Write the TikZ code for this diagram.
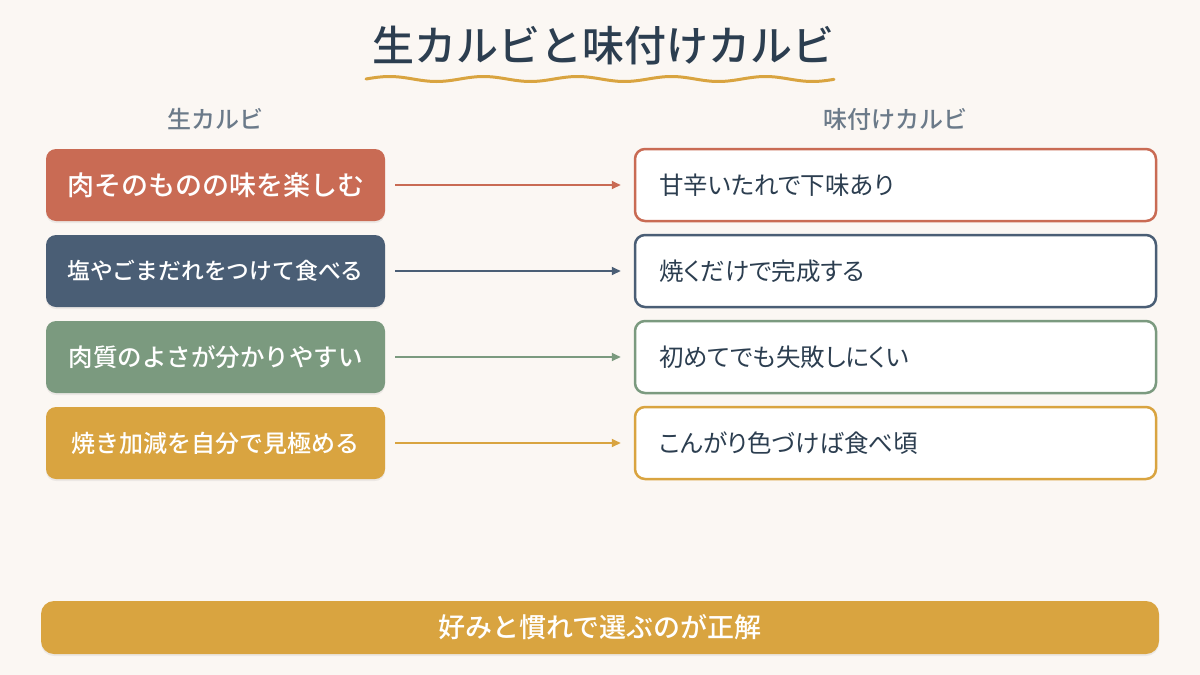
\documentclass[tikz,border=0pt]{standalone}
\usepackage{fontspec}
\setmainfont{Noto Sans CJK JP}
\newfontfamily\cjkmed{Noto Sans CJK JP Medium}
\newfontfamily\cjkprop[RawFeature=+palt]{Noto Sans CJK JP}
\usepackage{xcolor}
\usetikzlibrary{positioning,arrows.meta,shadows}

\definecolor{bgcream}{HTML}{FBF7F3}
\definecolor{titleink}{HTML}{2C3E50}
\definecolor{headink}{HTML}{6B7A89}
\definecolor{rouge}{HTML}{C96B54}
\definecolor{navy}{HTML}{4A5E75}
\definecolor{sage}{HTML}{7B9A7F}
\definecolor{gold}{HTML}{D9A440}

\begin{document}
\begin{tikzpicture}[
	x=1pt, y=1pt,
	every node/.style={inner sep=0pt},
	rawbox/.style={rounded corners=10pt, minimum width=339pt, minimum height=72pt, text=white,
		font=\fontsize{24.5}{30}\cjkmed,
		drop shadow={opacity=0.12, shadow xshift=0pt, shadow yshift=-2pt}},
	tastebox/.style={draw, line width=2.5pt, fill=white, rounded corners=10pt,
		minimum width=521pt, minimum height=72pt, text width=473pt, inner xsep=24pt,
		align=left, text=titleink, font=\fontsize{24.5}{28}\cjkprop},
	head/.style={text=headink, font=\fontsize{24}{28}\cjkmed},
	arrow/.style={-{Triangle[length=9pt, width=8pt]}, line width=2pt}
	]
	
	% background
	\fill[bgcream] (0,0) rectangle (1200,-675);
	
	% title
	\node[text=titleink, font=\fontsize{42}{48}\cjkmed] (title) at (603,-46) {生カルビと味付けカルビ};
	\draw[gold, line width=3pt, line cap=round, domain=0:468, samples=120, smooth]
		plot ({366+\x}, {-79+2.5*sin(\x/94*360)});
	
	% column heads
	\node[head] (hraw) at (215,-119) {生カルビ};
	\node[head] (htaste) at (895,-119) {味付けカルビ};
	
	% left: raw
	\node[rawbox, fill=rouge, font=\fontsize{27}{30}\cjkmed] (L1) at (215.5,-185) {肉そのものの味を楽しむ};
	\node[rawbox, fill=navy, font=\fontsize{22.8}{28}\cjkmed] (L2) at (215.5,-271) {塩やごまだれをつけて食べる};
	\node[rawbox, fill=sage] (L3) at (215.5,-357) {肉質のよさが分かりやすい};
	\node[rawbox, fill=gold, font=\fontsize{24}{28}\cjkmed] (L4) at (215.5,-443) {焼き加減を自分で見極める};
	
	% right: seasoned
	\node[tastebox, draw=rouge] (R1) at (895.5,-185) {甘辛いたれで下味あり};
	\node[tastebox, draw=navy] (R2) at (895.5,-271) {焼くだけで完成する};
	\node[tastebox, draw=sage] (R3) at (895.5,-357) {初めてでも失敗しにくい};
	\node[tastebox, draw=gold] (R4) at (895.5,-443) {こんがり色づけば食べ頃};
	
	\draw[arrow, rouge] ([xshift=10pt]L1.east) -- ([xshift=-13pt]R1.west);
	\draw[arrow, navy] ([xshift=10pt]L2.east) -- ([xshift=-13pt]R2.west);
	\draw[arrow, sage] ([xshift=10pt]L3.east) -- ([xshift=-13pt]R3.west);
	\draw[arrow, gold] ([xshift=10pt]L4.east) -- ([xshift=-13pt]R4.west);
	
	% conclusion
	\node[fill=gold, rounded corners=13pt, minimum width=1118pt, minimum height=53pt,
		text=white, font=\fontsize{27}{30}\cjkmed,
		drop shadow={opacity=0.12, shadow xshift=0pt, shadow yshift=-2pt}] (verdict) at (600,-627.5) {好みと慣れで選ぶのが正解};
	
\end{tikzpicture}
\end{document}
